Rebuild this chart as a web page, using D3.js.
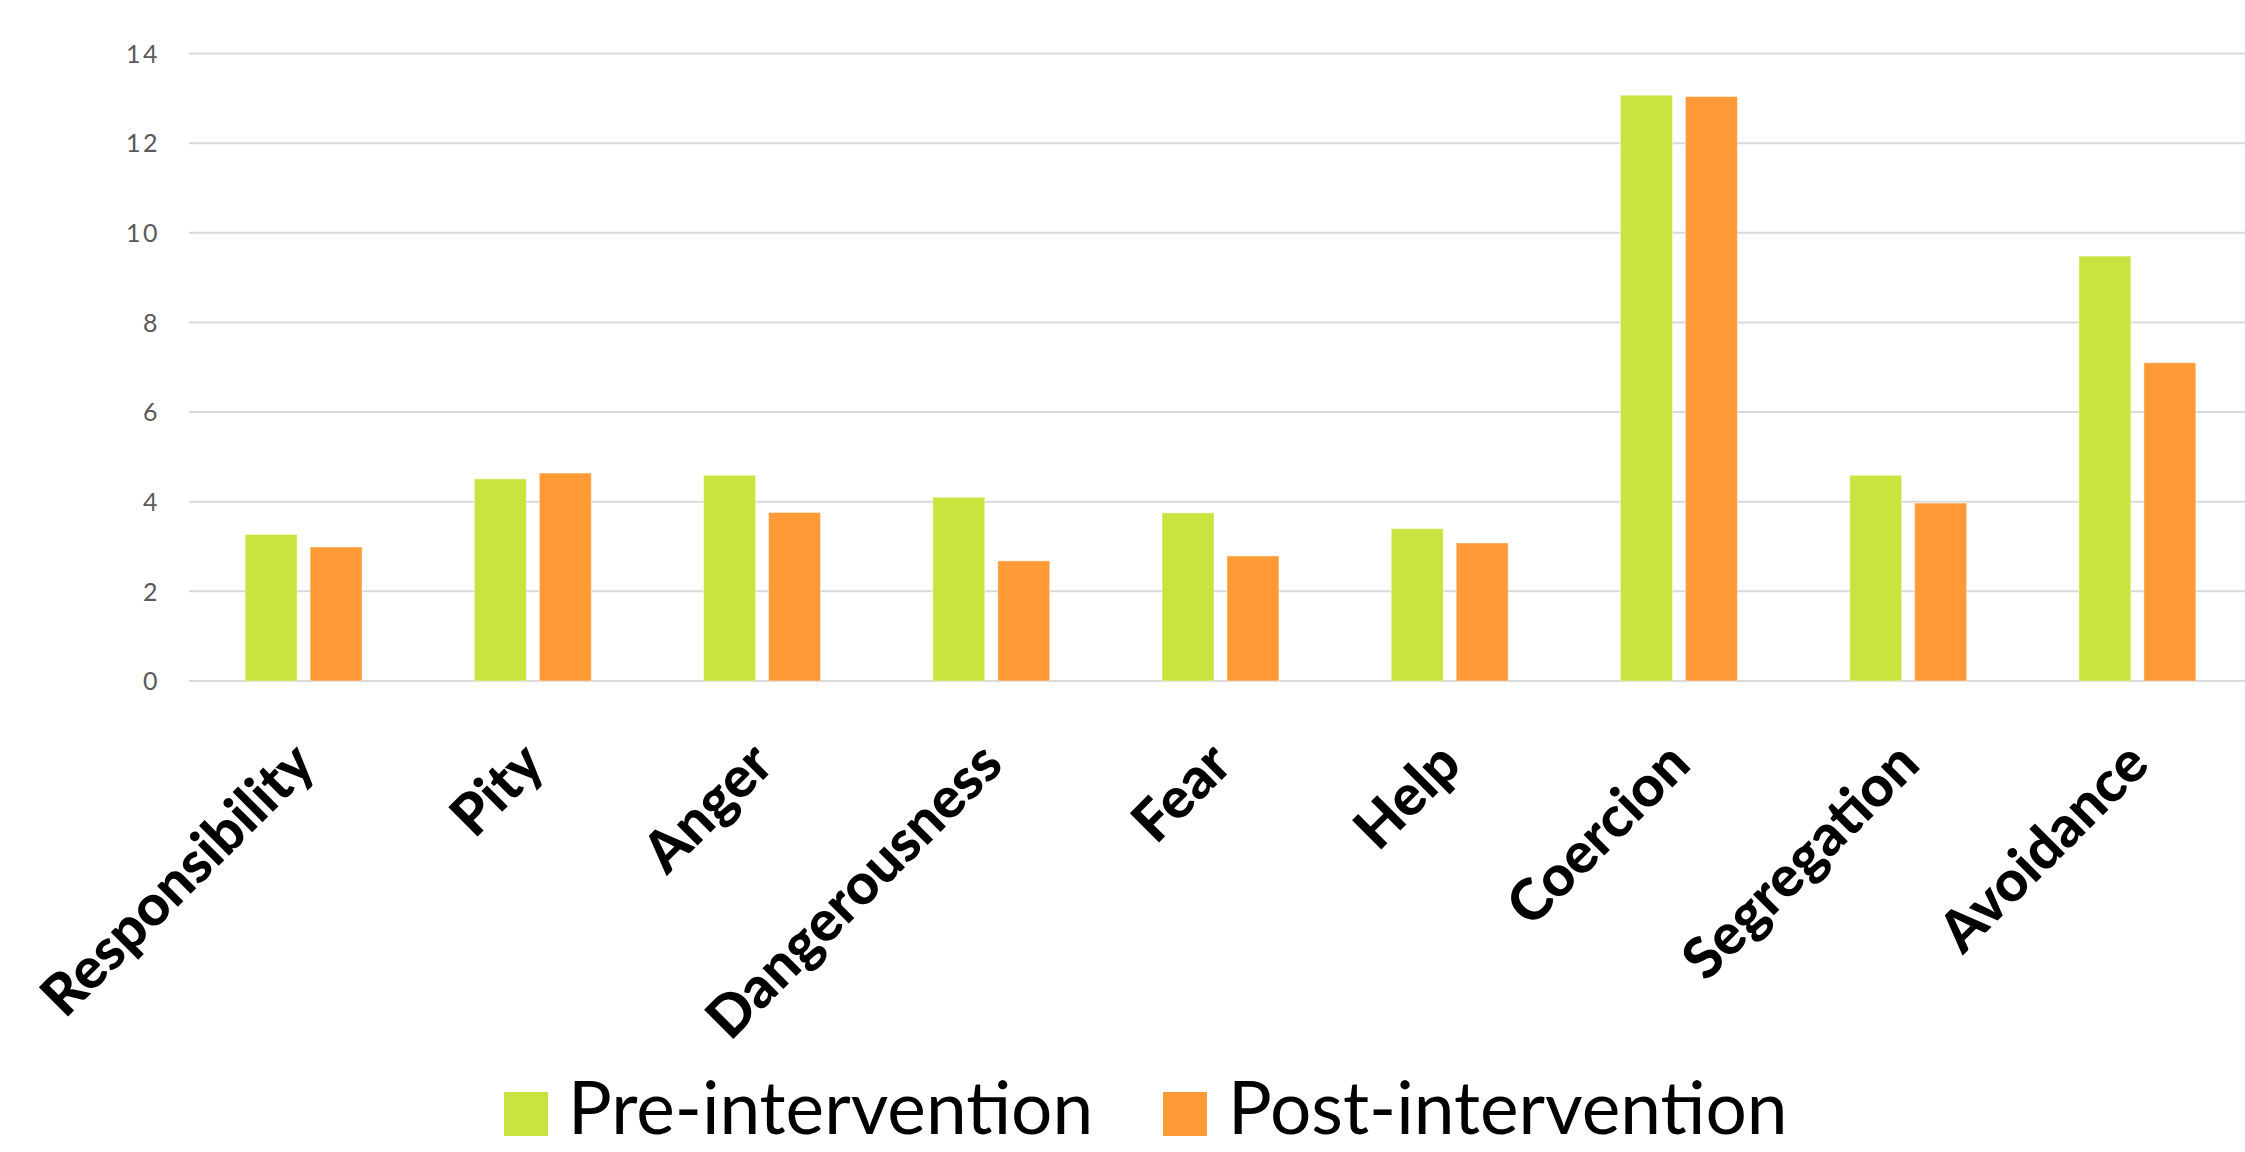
<!DOCTYPE html>
<html>
<head>
<meta charset="utf-8">
<script src="https://cdn.jsdelivr.net/npm/d3@7"></script>
<style>
  html, body { margin: 0; padding: 0; background: #ffffff; }
  svg { display: block; }
</style>
</head>
<body>
<svg id="chart" width="2245" height="1152"></svg>
<script>
// Attribution scale scores before and after the intervention
const categories = ["Responsibility", "Pity", "Anger", "Dangerousness", "Fear", "Help", "Coercion", "Segregation", "Avoidance"];
const preValues  = [3.27, 4.51, 4.59, 4.10, 3.75, 3.40, 13.07, 4.59, 9.48];
const postValues = [2.99, 4.64, 3.76, 2.68, 2.79, 3.08, 13.04, 3.97, 7.10];
const seriesNames = ["Pre-intervention", "Post-intervention"];
const seriesColors = ["#c9e43e", "#ff9a36"];
const yTicks = [0, 2, 4, 6, 8, 10, 12, 14];

const svg = d3.select("#chart");

const plot = { left: 189, right: 2252, top: 53.5, bottom: 681 };

const x0 = d3.scaleBand()
  .domain(categories)
  .range([plot.left, plot.right])
  .paddingInner(0.49)
  .paddingOuter(0.245);

const x1 = d3.scaleBand()
  .domain(seriesNames)
  .range([0, x0.bandwidth()])
  .paddingInner(0.2);

const y = d3.scaleLinear()
  .domain([0, 14])
  .range([plot.bottom, plot.top]);

// Horizontal gridlines
svg.append("g")
  .selectAll("line")
  .data(yTicks)
  .join("line")
  .attr("x1", plot.left)
  .attr("x2", plot.right)
  .attr("y1", d => y(d))
  .attr("y2", d => y(d))
  .attr("stroke", "#d9d9d9")
  .attr("stroke-width", 2);

// Value axis labels
const yAxis = d3.axisLeft(y).tickValues(yTicks).tickSize(0).tickPadding(0);
const yg = svg.append("g")
  .attr("transform", `translate(${plot.left - 29},0)`)
  .call(yAxis);
yg.select(".domain").remove();
yg.selectAll("text")
  .attr("fill", "#595959")
  .attr("font-family", "Lato, 'Open Sans', sans-serif")
  .attr("font-size", 25)
  .attr("letter-spacing", 2.5)
  .attr("dy", "0.35em");

// Grouped bars
const rows = categories.map((c, i) => ({ category: c, values: [preValues[i], postValues[i]] }));

const groups = svg.append("g")
  .selectAll("g")
  .data(rows)
  .join("g")
  .attr("transform", d => `translate(${x0(d.category)},0)`);

groups.selectAll("rect")
  .data(d => d.values.map((v, k) => ({ series: seriesNames[k], value: v, k })))
  .join("rect")
  .attr("x", d => x1(d.series))
  .attr("width", x1.bandwidth())
  .attr("y", d => y(d.value))
  .attr("height", d => y(0) - y(d.value))
  .attr("fill", d => seriesColors[d.k])
  .attr("stroke", "#ffffff")
  .attr("stroke-opacity", 0.45)
  .attr("stroke-width", 1);

// Category labels, rotated
const xAxis = d3.axisBottom(x0).tickSize(0).tickPadding(0);
const xg = svg.append("g")
  .attr("transform", `translate(0,${plot.bottom})`)
  .call(xAxis);
xg.select(".domain").remove();
xg.selectAll("text")
  .attr("fill", "#000000")
  .attr("font-family", "Lato, 'DejaVu Sans', sans-serif")
  .attr("font-weight", 900)
  .attr("font-size", 57)
  .attr("text-anchor", "end")
  .attr("dy", null)
  .attr("y", 0)
  .attr("transform", "translate(14,86) rotate(-45)");

// Legend
const legend = svg.append("g");
const legendItems = [
  { name: seriesNames[0], color: seriesColors[0], sx: 504, tx: 568 },
  { name: seriesNames[1], color: seriesColors[1], sx: 1163, tx: 1228 }
];
legendItems.forEach(item => {
  legend.append("rect")
    .attr("x", item.sx)
    .attr("y", 1092)
    .attr("width", 44)
    .attr("height", 44)
    .attr("fill", item.color);
  legend.append("text")
    .attr("x", item.tx)
    .attr("y", 1134)
    .attr("font-family", "Lato, 'Open Sans', sans-serif")
    .attr("font-size", 73)
    .attr("fill", "#000000")
    .text(item.name);
});
</script>
</body>
</html>
